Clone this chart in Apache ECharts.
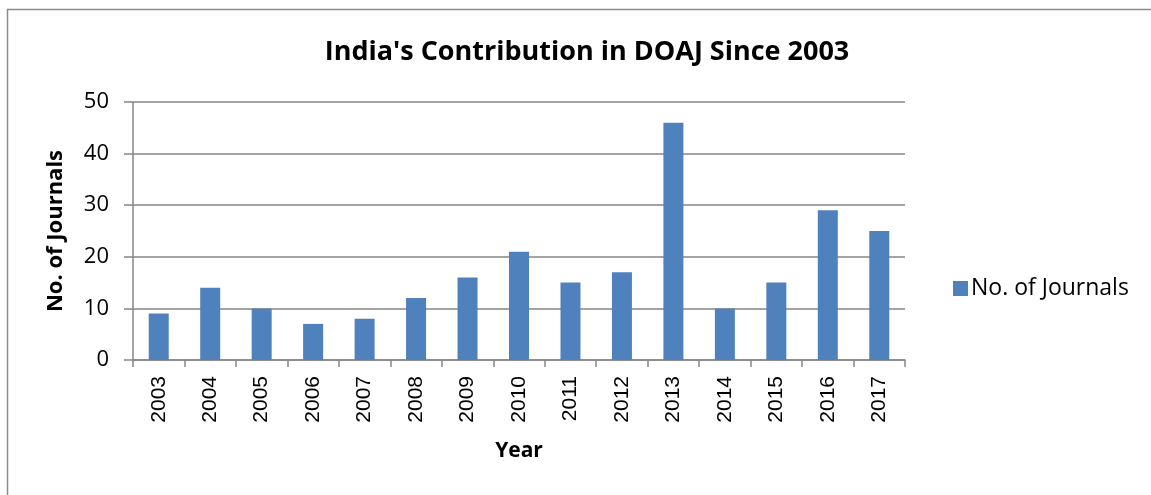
<!DOCTYPE html>
<html>
<head>
<meta charset="utf-8">
<script src="https://cdn.jsdelivr.net/npm/echarts@6/dist/echarts.min.js"></script>
<style>
html,body{margin:0;padding:0;background:#fff;}
#chart{width:1151px;height:495px;}
</style>
</head>
<body>
<div id="chart"></div>
<script>
const years = ['2003','2004','2005','2006','2007','2008','2009','2010','2011','2012','2013','2014','2015','2016','2017'];
const journals = [9,14,10,7,8,12,16,21,15,17,46,10,15,29,25];
const yTicks = [0,10,20,30,40,50];

const chart = echarts.init(document.getElementById('chart'), null, {renderer:'canvas'});
chart.setOption({
  backgroundColor:'#fff',
  animation:false,
  title:{
    text:"India's Contribution in DOAJ Since 2003",
    left:582, top:34, textAlign:'center',
    textStyle:{fontFamily:'Open Sans', fontWeight:'bold', fontSize:27, color:'#000'}
  },
  graphic:[{
    type:'rect', shape:{x:7.5,y:9.5,width:1160,height:500},
    style:{fill:'none', stroke:'#8c8c8c', lineWidth:1.5}, silent:true, z:-1
  }],
  legend:{
    data:['No. of Journals'], left:948, top:272, itemWidth:15, itemHeight:15,
    icon:'rect', itemGap:8,
    textStyle:{fontFamily:'Open Sans', fontSize:23, color:'#000', padding:[0,0,0,-2]}
  },
  grid:{left:133, right:246, top:102, bottom:135, containLabel:false},
  xAxis:{
    type:'category', data:years,
    name:'Year', nameLocation:'middle', nameGap:81,
    nameTextStyle:{fontFamily:'Open Sans', fontWeight:'bold', fontSize:21, color:'#000'},
    axisLine:{lineStyle:{color:'#868686', width:1.5}},
    axisTick:{show:true, alignWithLabel:false, length:7, lineStyle:{color:'#868686', width:1.5}},
    axisLabel:{rotate:90, fontFamily:'Liberation Sans', fontSize:21, color:'#000', margin:16}
  },
  yAxis:{
    type:'value', min:0, max:50, interval:10,
    name:'No. of Journals', nameLocation:'middle', nameGap:66, nameRotate:90,
    nameTextStyle:{fontFamily:'Open Sans', fontWeight:'bold', fontSize:22, color:'#000'},
    axisLine:{show:true, lineStyle:{color:'#868686', width:1.5}},
    axisTick:{show:true, length:9, inside:false, lineStyle:{color:'#868686', width:1.5}},
    axisLabel:{fontFamily:'Open Sans', fontSize:22, color:'#000', margin:24,
      formatter:function(v){return yTicks.indexOf(v)>=0 ? String(v) : '';}},
    splitLine:{lineStyle:{color:'#868686', width:1.5}}
  },
  series:[{
    name:'No. of Journals', type:'bar', data:journals,
    barWidth:20,
    itemStyle:{color:'#4F81BD'}
  }]
});
</script>
</body>
</html>
